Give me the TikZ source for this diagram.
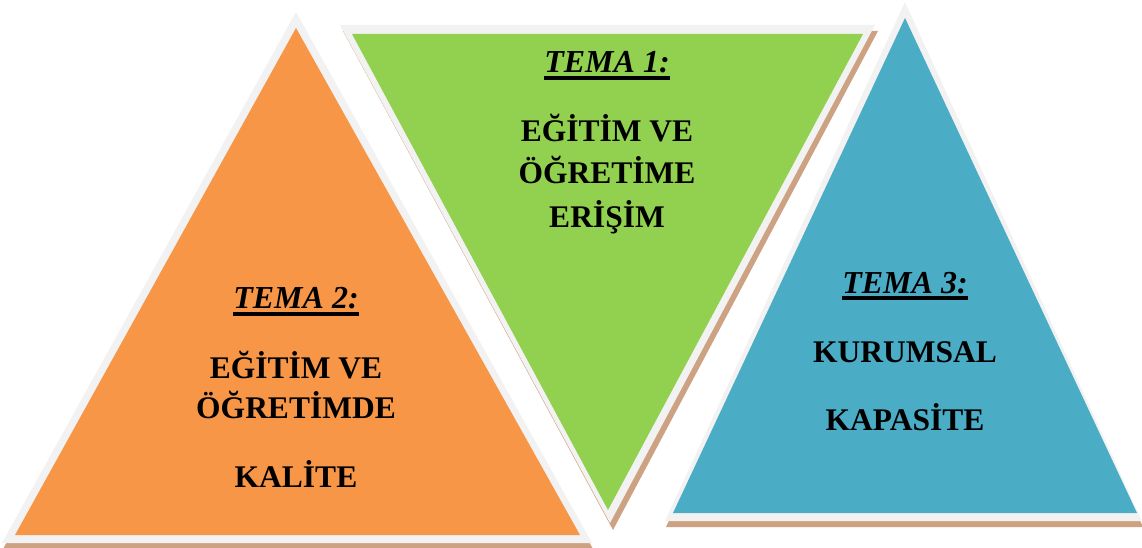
\documentclass[tikz,border=0pt]{standalone}
\usepackage{fontspec}
\setmainfont{Liberation Serif}
\usetikzlibrary{calc}
\definecolor{orangeF}{HTML}{F79646}
\definecolor{greenF}{HTML}{92D050}
\definecolor{blueF}{HTML}{4BACC6}
\definecolor{rimF}{HTML}{F2F2F2}
\definecolor{shadowF}{HTML}{CDA282}
\tikzset{
  rim/.style={fill=rimF},
  shade/.style={fill=shadowF},
  title/.style={inner sep=0pt, anchor=base, font=\fontsize{32}{38}\selectfont\bfseries\itshape},
  body/.style={inner sep=0pt, anchor=base, font=\fontsize{31.5}{38}\selectfont\bfseries},
  uline/.style={line width=3.2pt}
}
\begin{document}
\begin{tikzpicture}[x=1pt,y=-1pt]
\useasboundingbox (0,0) rectangle (1142,548);
% orange triangle
\fill[shade] (3,549) -- (297,18) -- (593,549) -- cycle;
\fill[rim] (2,543) -- (296,12) -- (592,543) -- cycle;
\fill[orangeF] (15,535) -- (296,28) -- (580,535) -- cycle;
% green triangle
\fill[shade] (343,31) -- (878,31) -- (613,530) -- cycle;
\fill[rim] (340,25) -- (875,25) -- (610,523) -- cycle;
\fill[greenF] (352,34) -- (863,34) -- (608,510) -- cycle;
% blue triangle
\fill[shade] (666,527) -- (906,8) -- (1143,527) -- cycle;
\fill[rim] (665,521) -- (905,2) -- (1142,521) -- cycle;
\fill[blueF] (673,513) -- (905,18) -- (1137,513) -- cycle;
% texts theme 1
\node[title] (t1) at (607,73) {TEMA 1:};
\draw[uline] ($(t1.base west)+(0,5)$) -- ($(t1.base east)+(0,5)$);
\node[body] (a1) at (607,142) {EĞİTİM VE};
\node[body] (a2) at (607,183) {ÖĞRETİME};
\node[body] (a3) at (607,227) {ERİŞİM};
% theme 2
\node[title] (t2) at (296,308) {TEMA 2:};
\draw[uline] ($(t2.base west)+(0,6)$) -- ($(t2.base east)+(0,6)$);
\node[body] (b1) at (296,378) {EĞİTİM VE};
\node[body] (b2) at (296,418) {ÖĞRETİMDE};
\node[body] (b3) at (296,487) {KALİTE};
% theme 3
\node[title] (t3) at (905,293) {TEMA 3:};
\draw[uline] ($(t3.base west)+(0,5)$) -- ($(t3.base east)+(0,5)$);
\node[body] (c1) at (905,362) {KURUMSAL};
\node[body] (c2) at (905,430) {KAPASİTE};
\end{tikzpicture}
\end{document}
